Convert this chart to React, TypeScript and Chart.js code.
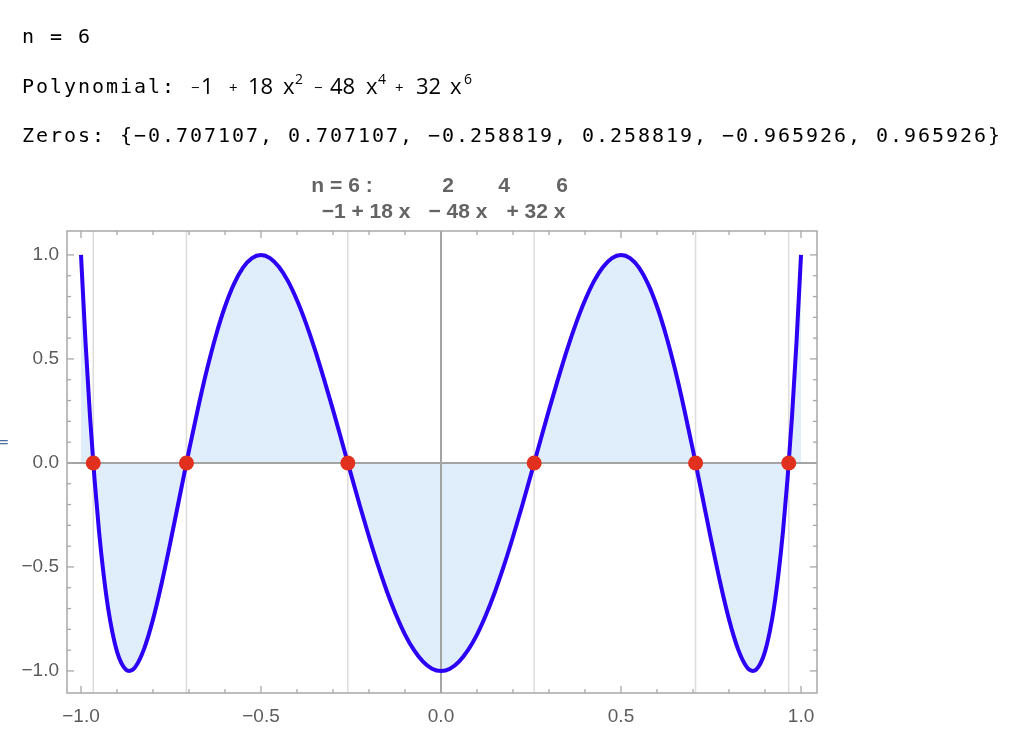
import React, { useEffect, useRef } from "react";
import { Chart, registerables } from "chart.js";

Chart.register(...registerables);

// ---- data ----
const xValues = [
  -1, -0.9875, -0.975, -0.9625, -0.95, -0.9375, -0.925, -0.9125, -0.9, -0.8875, -0.875, -0.866,
  -0.85, -0.825, -0.8, -0.775, -0.75, -0.725, -0.7, -0.675, -0.65, -0.625, -0.6, -0.575, -0.55,
  -0.525, -0.5, -0.475, -0.45, -0.425, -0.4, -0.375, -0.35, -0.325, -0.3, -0.275, -0.25, -0.225,
  -0.2, -0.175, -0.15, -0.125, -0.1, -0.075, -0.05, -0.025, 0,
  0.025, 0.05, 0.075, 0.1, 0.125, 0.15, 0.175, 0.2, 0.225, 0.25, 0.275, 0.3, 0.325, 0.35, 0.375,
  0.4, 0.425, 0.45, 0.475, 0.5, 0.525, 0.55, 0.575, 0.6, 0.625, 0.65, 0.675, 0.7, 0.725, 0.75,
  0.775, 0.8, 0.825, 0.85, 0.866, 0.875, 0.8875, 0.9, 0.9125, 0.925, 0.9375, 0.95, 0.9625, 0.975,
  0.9875, 1,
];
const yValues = [
  1.0, 0.582, 0.224, -0.077, -0.328, -0.532, -0.695, -0.817, -0.907, -0.964, -0.994, -1.0,
  -0.983, -0.895, -0.752, -0.571, -0.367, -0.153, 0.06, 0.263, 0.45, 0.614, 0.752, 0.861, 0.939,
  0.985, 1.0, 0.985, 0.942, 0.874, 0.782, 0.671, 0.544, 0.403, 0.255, 0.101, -0.055, -0.208,
  -0.355, -0.493, -0.619, -0.73, -0.825, -0.9, -0.955, -0.989, -1.0,
  -0.989, -0.955, -0.9, -0.825, -0.73, -0.619, -0.493, -0.355, -0.208, -0.055, 0.101, 0.255, 0.403,
  0.544, 0.671, 0.782, 0.874, 0.942, 0.985, 1.0, 0.985, 0.939, 0.861, 0.752, 0.614, 0.45, 0.263,
  0.06, -0.153, -0.367, -0.571, -0.752, -0.895, -0.983, -1.0, -0.994, -0.964, -0.907, -0.817,
  -0.695, -0.532, -0.328, -0.077, 0.224, 0.582, 1.0,
];
const zeroXs = [-0.965926, -0.707107, -0.258819, 0.258819, 0.707107, 0.965926];
const zeroYs = [0, 0, 0, 0, 0, 0];
const zerosListed = ["−0.707107", "0.707107", "−0.258819", "0.258819", "−0.965926", "0.965926"];

const majorTicks = [-1, -0.5, 0, 0.5, 1];
const majorTickLabels = ["−1.0", "−0.5", "0.0", "0.5", "1.0"];
const minorTicks = [
  -1, -0.9, -0.8, -0.7, -0.6, -0.5, -0.4, -0.3, -0.2, -0.1, 0, 0.1, 0.2, 0.3, 0.4, 0.5, 0.6, 0.7,
  0.8, 0.9, 1,
];

const X_MIN = -1.0389;
const X_MAX = 1.0444;
const Y_MIN = -1.106;
const Y_MAX = 1.115;

const TICK_FONT = "'Liberation Sans', Arial, sans-serif";
const TITLE_COLOR = "#646464";
const FRAME_COLOR = "#a8a8a8";

const mmaPlugin = {
  id: "mmaFrame",
  beforeDatasetsDraw(chart: any) {
    const { ctx, chartArea: a, scales } = chart;
    const xs = scales.x;
    const ys = scales.y;
    const line = (x1: number, y1: number, x2: number, y2: number) => {
      ctx.beginPath();
      ctx.moveTo(x1, y1);
      ctx.lineTo(x2, y2);
      ctx.stroke();
    };
    ctx.save();
    ctx.strokeStyle = "#dcdcdc";
    ctx.lineWidth = 1.5;
    zeroXs.forEach((v) => {
      const px = xs.getPixelForValue(v);
      line(px, a.top, px, a.bottom);
    });
    ctx.strokeStyle = "#a4a4a4";
    ctx.lineWidth = 2;
    const x0 = xs.getPixelForValue(0);
    const y0 = ys.getPixelForValue(0);
    line(x0, a.top, x0, a.bottom);
    line(a.left, y0, a.right, y0);
    ctx.restore();
  },
  afterDatasetsDraw(chart: any) {
    const { ctx, chartArea: a, scales } = chart;
    const xs = scales.x;
    const ys = scales.y;
    const line = (x1: number, y1: number, x2: number, y2: number) => {
      ctx.beginPath();
      ctx.moveTo(x1, y1);
      ctx.lineTo(x2, y2);
      ctx.stroke();
    };
    ctx.save();
    ctx.strokeStyle = FRAME_COLOR;
    ctx.lineWidth = 1.5;
    ctx.strokeRect(a.left, a.top, a.right - a.left, a.bottom - a.top);
    ctx.lineWidth = 1.3;
    const isMajor = (v: number) => majorTicks.some((m) => Math.abs(m - v) < 1e-9);
    minorTicks.forEach((v) => {
      const len = isMajor(v) ? 7 : 4;
      const px = xs.getPixelForValue(v);
      line(px, a.bottom, px, a.bottom - len);
      line(px, a.top, px, a.top + len);
      const py = ys.getPixelForValue(v);
      line(a.left, py, a.left + len, py);
      line(a.right, py, a.right - len, py);
    });
    ctx.restore();
  },
  afterDraw(chart: any) {
    const { ctx } = chart;
    ctx.save();
    ctx.fillStyle = TITLE_COLOR;
    ctx.textAlign = "center";
    ctx.textBaseline = "alphabetic";
    ctx.font = `bold 21px ${TICK_FONT}`;
    ctx.fillText("n = 6 :", 342, 192);
    ctx.fillText("2", 448, 192);
    ctx.fillText("4", 504, 192);
    ctx.fillText("6", 562, 192);
    ctx.fillText("−1 + 18 x", 366, 218);
    ctx.fillText("− 48 x", 458, 218);
    ctx.fillText("+ 32 x", 536, 218);
    ctx.restore();
  },
};

function Header() {
  const mono: React.CSSProperties = {
    position: "absolute",
    left: 22,
    fontFamily: "'DejaVu Sans Mono', monospace",
    fontSize: 20,
    letterSpacing: "1.96px",
    lineHeight: "22px",
    color: "#000",
    whiteSpace: "pre",
  };
  const tok = (text: string, left: number, top: number, size: number, key: string) => (
    <span
      key={key}
      style={{
        position: "absolute",
        left,
        top,
        fontFamily: "'Open Sans', 'DejaVu Sans', sans-serif",
        fontSize: size,
        lineHeight: "22px",
        color: "#000",
        whiteSpace: "pre",
      }}
    >
      {text}
    </span>
  );
  return (
    <>
      <div style={{ ...mono, top: 25 }}>n = 6</div>
      <div style={{ ...mono, top: 75 }}>Polynomial:</div>
      {tok("−", 191, 76, 15, "m1")}
      {tok("1", 201, 74, 22, "a1")}
      {tok("+", 229, 76, 15, "p1")}
      {tok("18", 248, 74, 22, "a2")}
      {tok("x", 283, 74, 22, "a3")}
      {tok("2", 295, 68, 14, "s1")}
      {tok("−", 314, 76, 15, "m2")}
      {tok("48", 330, 74, 22, "a4")}
      {tok("x", 366, 74, 22, "a5")}
      {tok("4", 378, 68, 14, "s2")}
      {tok("+", 395, 76, 15, "p2")}
      {tok("32", 416, 74, 22, "a6")}
      {tok("x", 450, 74, 22, "a7")}
      {tok("6", 464, 68, 14, "s3")}
      <div style={{ ...mono, top: 124 }}>{"Zeros: {" + zerosListed.join(", ") + "}"}</div>
      <div
        style={{
          position: "absolute",
          left: -4,
          top: 432,
          fontFamily: "'DejaVu Sans', sans-serif",
          fontSize: 16,
          color: "#4a6c9e",
        }}
      >
        =
      </div>
    </>
  );
}

export default function App() {
  const canvasRef = useRef<HTMLCanvasElement | null>(null);

  useEffect(() => {
    if (!canvasRef.current) return;
    const chart = new Chart(canvasRef.current, {
      type: "line",
      data: {
        datasets: [
          {
            label: "zeros",
            data: zeroXs.map((x, i) => ({ x, y: zeroYs[i] })),
            showLine: false,
            pointRadius: 7.5,
            pointBackgroundColor: "#e2301f",
            pointBorderWidth: 0,
            pointBorderColor: "#e2301f",
            order: 0,
          },
          {
            label: "T6",
            data: xValues.map((x, i) => ({ x, y: yValues[i] })),
            borderColor: "#2b00f5",
            borderWidth: 4,
            pointRadius: 0,
            fill: "origin",
            backgroundColor: "#e0edfb",
            cubicInterpolationMode: "monotone",
            order: 1,
          },
        ],
      } as any,
      options: {
        responsive: false,
        animation: false,
        layout: { padding: { left: 0, top: 231, right: 207, bottom: 0 } },
        plugins: {
          legend: { display: false },
          tooltip: { enabled: false },
          title: { display: false },
          filler: { drawTime: "beforeDraw" },
        } as any,
        scales: {
          x: {
            type: "linear",
            min: X_MIN,
            max: X_MAX,
            grid: { display: false, drawTicks: false },
            border: { display: false },
            afterBuildTicks: (s: any) => {
              s.ticks = majorTicks.map((v) => ({ value: v }));
            },
            afterFit: (s: any) => {
              s.height = 41;
            },
            ticks: {
              autoSkip: false,
              maxRotation: 0,
              padding: 12,
              color: "#5c5c5c",
              font: { family: TICK_FONT, size: 19 },
              callback: (_v: any, i: number) => majorTickLabels[i],
            },
          },
          y: {
            type: "linear",
            min: Y_MIN,
            max: Y_MAX,
            grid: { display: false, drawTicks: false },
            border: { display: false },
            afterBuildTicks: (s: any) => {
              s.ticks = majorTicks.map((v) => ({ value: v }));
            },
            afterFit: (s: any) => {
              s.width = 67;
            },
            ticks: {
              autoSkip: false,
              padding: 8,
              color: "#5c5c5c",
              font: { family: TICK_FONT, size: 19 },
              callback: (_v: any, i: number) => majorTickLabels[i],
            },
          },
        },
      } as any,
      plugins: [mmaPlugin],
    });
    return () => chart.destroy();
  }, []);

  return (
    <div
      style={{
        position: "absolute",
        left: 0,
        top: 0,
        width: 1024,
        height: 734,
        background: "#fff",
        overflow: "hidden",
      }}
    >
      <canvas
        ref={canvasRef}
        width={1024}
        height={734}
        style={{ position: "absolute", left: 0, top: 0, width: 1024, height: 734 }}
      />
      <Header />
    </div>
  );
}
